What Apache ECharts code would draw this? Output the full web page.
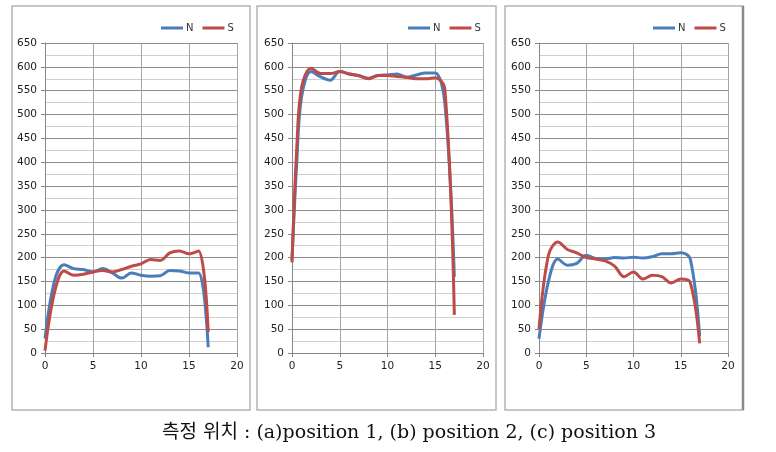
<!DOCTYPE html>
<html><head><meta charset="utf-8">
<script src="https://cdn.jsdelivr.net/npm/echarts@6/dist/echarts.min.js"></script>
<style>html,body{margin:0;padding:0;background:#fff}#c{width:776px;height:452px}</style>
</head><body><div id="c"></div>
<script>
// ---- data ----
const xA = [0,1,2,3,4,5,6,7,8,9,10,11,12,13,14,15,16,17];
const nA = [30,152,185,177,175,170,177,168,157,168,163,161,162,173,172,168,168,12];
const sA = [5,128,172,163,165,170,173,170,175,182,187,196,194,210,214,208,214,44];

const xB = [0,0.5,1,2,3,4,5,6,7,8,9,10,11,12,13,14,15,16,17];
const nB = [195,400,537,590,579,572,590,585,582,576,582,583,585,578,583,587,587,525,160];
const sB = [190,430,557,597,586,586,590,585,581,575,582,582,580,578,575,575,577,555,80];

const xC = [0,1,2,3,4,5,6,7,8,9,10,11,12,13,14,15,16,17];
const nC = [30,150,197,184,188,205,198,197,200,199,201,199,202,208,208,210,198,35];
const sC = [50,205,233,217,210,200,197,193,182,160,170,155,163,160,147,155,148,20];

const seriesNames = ['N','S'];
const colors = ['#4a7ebb','#be4b48'];
const xTicks = {min:0, max:20, interval:5};
const yTicks = {min:0, max:650, interval:50};
const caption = '측정 위치 : (a)position 1, (b) position 2, (c) position 3';

// ---- layout ----
const panels = [
  {x:xA, n:nA, s:sA, frame:[12,6,238,404], grid:{left:45,top:43,width:192,height:310}, legendLeft:156},
  {x:xB, n:nB, s:sB, frame:[257,6,239,404], grid:{left:292,top:43,width:191,height:310}, legendLeft:403},
  {x:xC, n:nC, s:sC, frame:[505,6,238,404], grid:{left:539,top:43,width:189,height:310}, legendLeft:648}
];

const pair = (xs, ys) => xs.map((v,i)=>[v, ys[i]]);

const option = {
  animation:false,
  backgroundColor:'#fff',
  grid: panels.map(p=>Object.assign({containLabel:false, show:false}, p.grid)),
  legend: panels.map((p,i)=>({
    data:seriesNames, left:p.legendLeft, top:18, itemWidth:22, itemHeight:3, itemGap:9,
    icon:'rect', textStyle:{fontFamily:'DejaVu Sans', fontSize:10, color:'#333', padding:[0,0,0,-2]},
    selectedMode:false
  })),
  xAxis: panels.map((p,i)=>({
    type:'value', gridIndex:i, min:xTicks.min, max:xTicks.max, interval:xTicks.interval,
    axisLine:{show:true, onZero:false, lineStyle:{color:'#868686', width:1}},
    axisTick:{show:true, inside:false, length:4, lineStyle:{color:'#868686'}},
    axisLabel:{fontFamily:'DejaVu Sans', fontSize:10.5, color:'#222', margin:8},
    splitLine:{show:true, lineStyle:{color:'#a6a6a6', width:1}}
  })),
  yAxis: panels.map((p,i)=>({
    type:'value', gridIndex:i, min:yTicks.min, max:yTicks.max, interval:yTicks.interval,
    axisLine:{show:true, lineStyle:{color:'#868686', width:1}},
    axisTick:{show:true, inside:false, length:4, lineStyle:{color:'#868686'}},
    axisLabel:{fontFamily:'DejaVu Sans', fontSize:10.5, color:'#222', margin:8},
    splitLine:{show:true, lineStyle:{color:'#8c8c8c', width:1}},
    minorTick:{show:false, splitNumber:2},
    minorSplitLine:{show:true, lineStyle:{color:'#cfcfcf', width:1}}
  })),
  series: [],
  graphic: []
};
panels.forEach((p,i)=>{
  option.series.push({name:'N', type:'line', xAxisIndex:i, yAxisIndex:i, data:pair(p.x,p.n),
    smooth:0.35, showSymbol:false, lineStyle:{color:colors[0], width:3}, itemStyle:{color:colors[0]}});
  option.series.push({name:'S', type:'line', xAxisIndex:i, yAxisIndex:i, data:pair(p.x,p.s),
    smooth:0.35, showSymbol:false, lineStyle:{color:colors[1], width:3}, itemStyle:{color:colors[1]}});
  option.graphic.push({type:'rect', shape:{x:p.frame[0], y:p.frame[1], width:p.frame[2], height:p.frame[3]},
    style:{fill:'none', stroke:'#b4b4b4', lineWidth:1.5}, z:-1});
});
option.graphic.push({type:'line', shape:{x1:743,y1:6,x2:743,y2:410}, style:{stroke:'#8a8a8a', lineWidth:2.5}});
option.graphic.push({type:'text', x:409, y:433,
  style:{text:caption, font:'19px "DejaVu Serif", "Noto Sans CJK KR", serif', fill:'#111', align:'center', verticalAlign:'middle'}});

const chart = echarts.init(document.getElementById('c'), null, {renderer:'canvas'});
chart.setOption(option);
</script></body></html>
